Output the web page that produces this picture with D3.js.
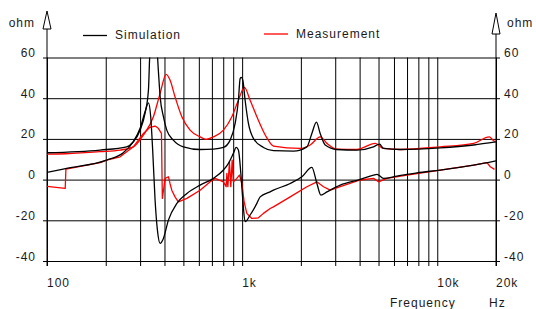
<!DOCTYPE html>
<html><head><meta charset="utf-8">
<script src="https://cdn.jsdelivr.net/npm/d3@7/dist/d3.min.js"></script>
<style>
body{margin:0;background:#fff}
text{font-family:"Liberation Sans",Arial,sans-serif;font-size:12px;letter-spacing:1px;fill:#1a1a1a}
</style>
</head><body><svg id="c" width="536" height="309"></svg>
<script>
// ---- data ----
const yTicks = [-40, -20, 0, 20, 40, 60];
const xGrid = [100,200,300,400,500,600,700,800,900,1000,2000,3000,4000,5000,6000,7000,8000,9000,10000,20000];
const xTickValues = [100, 1000, 10000, 20000];
const xTickLabels = ["100", "1k", "10k", "20k"];
const seriesNames = ["Simulation", "Measurement"];

// [frequency Hz, value]
const simMag = [[100,13.2],[187,14.5],[256,16.1],[277,18.6],[300,24.3],[318,32.5],[331,44],[337,62],[350,66],[367,62],[372,53.8],[380,40.7],[395,30.9],[411,24.3],[444,19.4],[500,16.1],[609,14.8],[713,15],[802,15.8],[868,19.4],[921,27.6],[957,39],[977,49.7],[990,50.2],[1008,48.9],[1036,39],[1077,27.6],[1143,20.2],[1286,15.8],[1447,14.2],[1832,14],[2147,16.1],[2277,22.7],[2404,28.2],[2512,22.7],[2665,17],[3059,14.8],[3874,14.5],[4713,16.1],[5060,17.4],[5304,15.3],[6460,14.8],[10360,15.6],[15360,17],[20000,18.5]];
const simPhase = [[100,3.5],[126,5.5],[202,9.6],[246,13.2],[277,18.6],[300,25.2],[318,33.3],[331,37.7],[340,30.9],[348,14.5],[358,-10],[368,-24.8],[380,-31.3],[395,-28.9],[419,-19.9],[463,-11.7],[521,-6.8],[609,-2.7],[713,0.6],[802,4.7],[851,8],[902,12.9],[932,15.8],[957,14.5],[985,3],[1008,-10],[1036,-20.7],[1099,-17.4],[1190,-11.7],[1237,-8.5],[1392,-6],[1447,-5.2],[1763,-1.9],[2024,1.4],[2277,6],[2416,-1.9],[2533,-7.6],[2720,-6],[3182,-2.7],[4029,0.1],[4713,2.2],[4908,2.6],[5304,0.6],[6213,1.7],[7870,3.3],[10360,4.7],[15360,7.1],[20000,9.2]];
const measMag = [[100,12.5],[125,12.7],[187,13.7],[237,14.5],[277,16.1],[312,21.9],[351,30.9],[380,42.4],[408,51.7],[427,48.9],[453,40.7],[491,30.9],[541,24.3],[609,21],[654,19.8],[713,21],[802,24.3],[886,30.9],[957,39],[1027,45.3],[1099,39],[1190,30.9],[1339,20.5],[1447,16.5],[1983,15.3],[2232,17],[2512,21],[2720,17.8],[3059,15],[3874,14.8],[4810,17.8],[5304,15.3],[6460,14.8],[10360,16.1],[15360,17.8],[18480,21],[19440,19.1],[20000,18.6]];
const measPhase = [[100,-3.3],[124,-4.3],[125,5.2],[187,8.3],[202,9.6],[237,11.2],[277,16.1],[312,22.7],[337,25.7],[358,26.3],[372,25.2],[386,22.7],[390,-9.2],[403,0.6],[419,1.4],[427,-1.9],[436,-5.2],[453,-8.5],[471,-10.9],[521,-9.2],[609,-5.2],[686,-1.1],[727,0.6],[802,-1.1],[828,-3.5],[835,3],[845,-3.5],[861,8.7],[875,-3.5],[889,9.6],[902,-1.1],[939,0.6],[969,2.2],[997,-1.9],[1024,-10.9],[1057,-16.6],[1121,-19.1],[1212,-18.8],[1286,-16.6],[1392,-14.2],[1447,-13.4],[1763,-8.5],[2147,-3.5],[2416,-1.1],[2612,-3.5],[2827,-5.2],[3182,-3.5],[4029,-0.2],[4713,0.6],[5000,-1.1],[5521,0.6],[6990,2.2],[10360,4.7],[15360,7.1],[17980,8.3],[18700,6.3],[19650,5]];

// ---- drawing ----
const svg = d3.select("#c");
const x = d3.scaleLog().domain([100, 20000]).range([47, 496]);
const y = d3.scaleLinear().domain([-40, 60]).range([261, 57.5]);
const X0 = x.range()[0], X1 = x.range()[1];

svg.append("defs").append("clipPath").attr("id","clip")
  .append("rect").attr("x", X0).attr("y", y(60)).attr("width", X1 - X0).attr("height", y(-40) - y(60));

// vertical grid via axis
const gx = svg.append("g").attr("transform", `translate(0,${y(-40) + 5})`)
  .call(d3.axisBottom(x).tickValues(xGrid).tickSize(-(y(-40) + 5 - y(60))).tickFormat(""));
gx.select(".domain").remove();
gx.selectAll("line").attr("stroke", "#000").attr("stroke-width", 1);

// horizontal grid via axis
const gy = svg.append("g").attr("transform", `translate(${X0 - 4},0)`)
  .call(d3.axisLeft(y).tickValues(yTicks).tickSize(-(X1 + 4 - (X0 - 4))).tickFormat(""));
gy.select(".domain").remove();
gy.selectAll("line").attr("stroke", "#000").attr("stroke-width", 1);

// vertical axes with arrows
[[X0, 11, 29], [X1, 13, 34]].forEach(([ax, tip, base]) => {
  svg.append("line").attr("x1", ax).attr("x2", ax).attr("y1", base).attr("y2", y(-40) + 5)
    .attr("stroke", "#000").attr("stroke-width", 1);
  svg.append("path").attr("d", `M${ax},${tip}L${ax - 4},${base}L${ax + 4},${base}Z`)
    .attr("fill", "#fff").attr("stroke", "#000").attr("stroke-width", 1);
});

// y labels
yTicks.forEach(v => {
  svg.append("text").attr("x", 36).attr("y", y(v) - 0.5).attr("text-anchor", "end").text(v);
  svg.append("text").attr("x", 504).attr("y", y(v) - 0.5).attr("text-anchor", "start").text(v);
});
svg.append("text").attr("x", 35).attr("y", 27).attr("text-anchor", "end").text("ohm");
svg.append("text").attr("x", 507).attr("y", 27).text("ohm");

// x labels
xTickValues.forEach((v, i) => {
  svg.append("text").attr("x", x(v)).attr("y", 286.5).text(xTickLabels[i]);
});
svg.append("text").attr("x", 390).attr("y", 306.5).text("Frequency");
svg.append("text").attr("x", 489).attr("y", 306.5).text("Hz");

// legend
svg.append("line").attr("x1", 83).attr("x2", 107).attr("y1", 35.5).attr("y2", 35.5).attr("stroke", "#000").attr("stroke-width", 1.3);
svg.append("text").attr("x", 115).attr("y", 39).text(seriesNames[0]);
svg.append("line").attr("x1", 264).attr("x2", 288).attr("y1", 34).attr("y2", 34).attr("stroke", "#f00").attr("stroke-width", 1.3);
svg.append("text").attr("x", 296).attr("y", 37.5).text(seriesNames[1]);

// curves
const line = d3.line().x(d => x(d[0])).y(d => y(d[1])).curve(d3.curveMonotoneX);
const lineLin = d3.line().x(d => x(d[0])).y(d => y(d[1]));
const cg = svg.append("g").attr("clip-path", "url(#clip)");
[[measMag, "#f00", line], [measPhase, "#f00", lineLin], [simMag, "#000", line], [simPhase, "#000", line]].forEach(([data, col, gen]) => {
  cg.append("path").datum(data).attr("d", gen).attr("fill", "none").attr("stroke", col).attr("stroke-width", 1.3).attr("stroke-linejoin", "round");
});
</script>
</body></html>
